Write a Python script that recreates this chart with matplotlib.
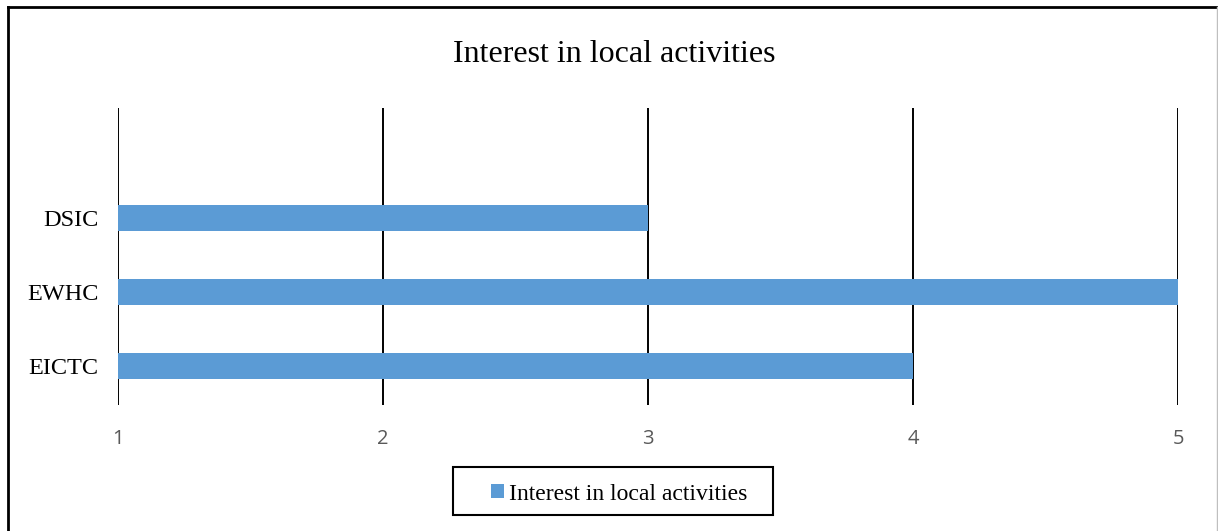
import matplotlib.pyplot as plt
from matplotlib.lines import Line2D
from matplotlib.patches import Rectangle

# ==================== Data ====================
CATEGORIES = ['EICTC', 'EWHC', 'DSIC']
VALUES     = [4, 5, 3]
X_TICKS    = [1, 2, 3, 4, 5]
TITLE      = 'Interest in local activities'
SERIES     = 'Interest in local activities'

BAR_COLOR  = '#5B9BD5'
SERIF      = 'Liberation Serif'
SANS       = ['Open Sans', 'DejaVu Sans']

W, H = 1218, 531
fig = plt.figure(figsize=(W / 100, H / 100), dpi=100)

# axes placed in pixel terms of the reference
left, right, top, bottom = 118, 1178, 108, 405
ax = fig.add_axes([left / W, 1 - bottom / H, (right - left) / W, (bottom - top) / H])

base = X_TICKS[0]
ypos = list(range(len(CATEGORIES)))
ax.barh(ypos, [v - base for v in VALUES], left=base, height=0.35,
        color=BAR_COLOR, label=SERIES, zorder=3)

ax.set_xlim(X_TICKS[0], X_TICKS[-1])
ax.set_ylim(-0.53, 3.49)
ax.set_xticks(X_TICKS)
ax.set_xticklabels([str(t) for t in X_TICKS], family=SANS, fontsize=14.5, color='#595959')
ax.set_yticks(ypos)
ax.set_yticklabels(CATEGORIES, family=SERIF, fontsize=17.5, color='black')
ax.tick_params(axis='both', length=0)
ax.tick_params(axis='x', pad=17)
ax.tick_params(axis='y', pad=14)

ax.grid(axis='x', color='black', linewidth=1.4, zorder=1)
for s in ax.spines.values():
    s.set_visible(False)

fig.text(614 / W, 1 - 55 / H, TITLE, ha='center', va='center',
         family=SERIF, fontsize=23)

# legend (frameless) with a separate box like the reference
leg = fig.legend(loc='center', bbox_to_anchor=(619 / W, 1 - 494 / H),
                 prop={'family': SERIF, 'size': 17}, frameon=False,
                 handlelength=0.55, handleheight=0.55, handletextpad=0.2,
                 borderpad=0, borderaxespad=0)
fig.add_artist(Rectangle((453 / W, 1 - 515 / H), 320 / W, 48 / H,
                         transform=fig.transFigure, fill=False,
                         edgecolor='black', linewidth=1.5))

# outer chart border
fig.add_artist(Line2D([8 / W, 8 / W], [0, 1 - 7 / H], transform=fig.transFigure,
                      color='black', linewidth=2))
fig.add_artist(Line2D([8 / W, 1217 / W], [1 - 7 / H, 1 - 7 / H], transform=fig.transFigure,
                      color='black', linewidth=2))
fig.add_artist(Line2D([1217 / W, 1217 / W], [0, 1 - 7 / H], transform=fig.transFigure,
                      color='#BFBFBF', linewidth=1))

fig.savefig('out.png', dpi=100)
